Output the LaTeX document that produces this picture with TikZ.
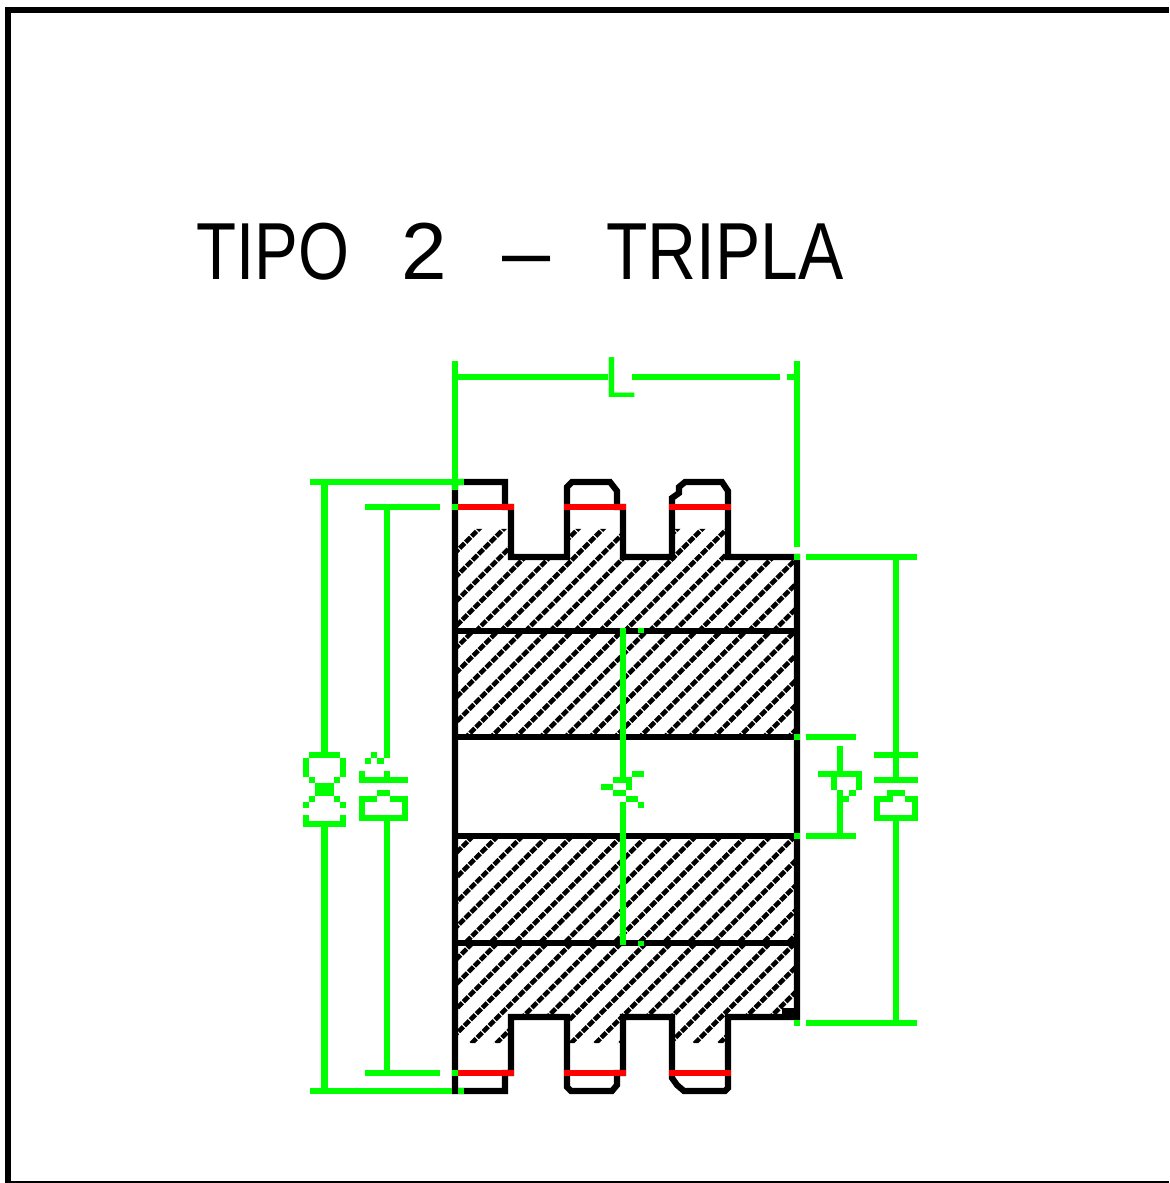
\documentclass[tikz,border=0pt]{standalone}
\usepackage{fontspec}
\setmainfont{Liberation Sans}

\tikzset{
	body/.style={draw=black, line width=1.75pt},
	pitch/.style={draw=red, line width=1.75pt},
	dimline/.style={draw=green, line width=1.75pt},
	hatchline/.style={draw=black, line width=1.3pt, dash pattern=on 2pt off 0.4pt},
}

\begin{document}
\begin{tikzpicture}[x=0.01cm, y=-0.01cm]
	\useasboundingbox (0,0) rectangle (1169,1183);
	% frame
	\fill[black] (5,7) rectangle (1169,13);
	\fill[black] (5,7) rectangle (11,1183);
	\fill[black] (5,1181) rectangle (1169,1183);
	% title
	\node[anchor=base west, inner sep=0pt, xscale=0.81, transform shape, font=\fontsize{23}{23}\selectfont] (title) at (196,280) {TIPO\hspace{18.2pt}\scalebox{1.25}[1]{2}\hspace{19.6pt}\scalebox{1.32}[1]{–}\hspace{19.5pt}\scalebox{1.035}[1]{TRIPLA}};
	% hatching, one clip per layer
	\begin{scope}
		\clip (455,529) -- (511,529) -- (511,557) -- (567,557) -- (567,529) -- (623,529) -- (623,557) -- (672,557) -- (672,529) -- (728,529) -- (728,557) -- (797,557) -- (797,631) -- (455,631) -- cycle;
		\foreach \k in {-6,...,24} \draw[hatchline] ({1107+\k*24.8-400},400) -- ({1107+\k*24.8-1200},1200);
	\end{scope}
	\begin{scope}
		\clip (455,631) rectangle (797,737);
		\foreach \k in {-6,...,24} \draw[hatchline] ({1104+\k*24.8-400},400) -- ({1104+\k*24.8-1200},1200);
	\end{scope}
	\begin{scope}
		\clip (455,836) rectangle (797,943);
		\foreach \k in {-12,...,20} \draw[hatchline] ({1309+\k*24.8-400},400) -- ({1309+\k*24.8-1200},1200);
	\end{scope}
	\begin{scope}
		\clip (455,943) -- (797,943) -- (797,1017) -- (728,1017) -- (728,1043) -- (672,1043) -- (672,1017) -- (623,1017) -- (623,1043) -- (567,1043) -- (567,1017) -- (511,1017) -- (511,1043) -- (455,1043) -- cycle;
		\foreach \k in {-24,...,16} \draw[hatchline] ({1490+\k*24.8-400},400) -- ({1490+\k*24.8-1200},1200);
	\end{scope}
	% sprocket outline
	\draw[body] (455,482) -- (505,482) -- (505,507) -- (511,507) -- (511,557) -- (567,557) -- (567,487) -- (572,482) -- (610,482) -- (617,491) -- (617,507) -- (623,507) -- (623,557) -- (672,557) -- (672,498) -- (679,493) -- (679,487) -- (685,482) -- (722,482) -- (728,491) -- (728,557) -- (797,557) -- (797,1017) -- (728,1017) -- (728,1088) -- (725,1091) -- (684,1091) -- (677,1085) -- (672,1078) -- (672,1017) -- (623,1017) -- (623,1073) -- (617,1073) -- (617,1085) -- (612,1091) -- (571,1091) -- (567,1087) -- (567,1017) -- (511,1017) -- (511,1073) -- (505,1073) -- (505,1091) -- (455,1091) -- cycle;
	\foreach \y in {631,737,836,943} \draw[body] (455,\y) -- (797,\y);
	\fill[black] (782,1008) rectangle (800,1020);
	% pitch lines
	\foreach \y in {507,1073} {
		\draw[pitch] (458,\y) -- (514,\y);
		\draw[pitch] (564,\y) -- (626,\y);
		\draw[pitch] (669,\y) -- (731,\y);
	}
	% length
	\draw[dimline] (455,361) -- (455,490);
	\draw[dimline] (797,361) -- (797,547);
	\draw[dimline] (458,377) -- (608,377);
	\draw[dimline] (632,377) -- (780,377);
	\draw[dimline] (787,377) -- (794,377);
	\node[anchor=base west, inner sep=0pt, text=green, font=\fontsize{16.5}{16.5}\selectfont] (length) at (604,398) {L};
	% outer diameter
	\draw[dimline] (310,482) -- (464,482);
	\draw[dimline] (310,1091) -- (452,1091);
	\draw[dimline] (324.5,482) -- (324.5,755);
	\draw[dimline] (324.5,824) -- (324.5,1091);
	\draw[dimline] (309,755) -- (340,755);
	\draw[dimline] (306,758) -- (306,777);
	\draw[dimline] (343,758) -- (343,777);
	\draw[dimline] (306,815) -- (306,824) -- (343,824) -- (343,815);
	% pitch diameter
	\draw[dimline] (365,507) -- (440,507);
	\draw[dimline] (365,1073) -- (440,1073);
	\draw[dimline] (387,507) -- (387,758);
	\draw[dimline] (387,818) -- (387,1073);
	\draw[dimline] (359,780) -- (408,780);
	\draw[dimline] (362,796) -- (362,818) -- (405,818) -- (405,796);
	% hub diameter
	\draw[dimline] (806,557) -- (917,557);
	\draw[dimline] (806,1023) -- (917,1023);
	\draw[dimline] (896,557) -- (896,780);
	\draw[dimline] (896,818) -- (896,1023);
	\draw[dimline] (874,755) -- (918,755);
	\draw[dimline] (874,780) -- (918,780);
	\draw[dimline] (877,799) -- (877,818) -- (915,818) -- (915,799);
	% bore
	\draw[dimline] (806,737) -- (856,737);
	\draw[dimline] (806,836) -- (856,836);
	\draw[dimline] (840,746) -- (840,774);
	\draw[dimline] (840,790) -- (840,836);
	\draw[dimline] (818,774) -- (859,774) -- (859,790);
	\draw[dimline] (834,774) -- (834,790);
	% centre line
	\draw[dimline] (623,628) -- (623,777);
	\draw[dimline] (623,802) -- (623,945);
	% loose pixels of the dimension glyphs
	\foreach \xa/\ya/\xb/\yb in {
		452/504/458/510, 452/1070/458/1076, 458/1088/464/1094,
		794/554/800/560, 806/554/810/560, 794/734/800/740, 806/734/810/740,
		794/833/800/839, 794/1020/800/1026, 638/628/644/633, 638/941/644/946,
		309/777/315/783, 334/777/340/783, 315/783/334/796, 309/796/315/802, 334/796/340/802,
		303/802/309/808, 340/802/346/808,
		371/752/377/758, 365/758/371/764, 377/758/384/764, 359/771/365/780, 384/771/390/777,
		377/790/390/796, 365/796/377/802, 390/796/402/802,
		887/790/905/796, 874/796/893/802, 905/796/918/802,
		843/796/849/802, 849/790/856/796,
		632/771/644/777, 613/777/632/783, 626/783/632/790, 601/784/613/790,
		613/790/626/796, 626/796/638/802, 638/802/644/808} {
		\fill[green] (\xa,\ya) rectangle (\xb,\yb);
	}
\end{tikzpicture}
\end{document}
